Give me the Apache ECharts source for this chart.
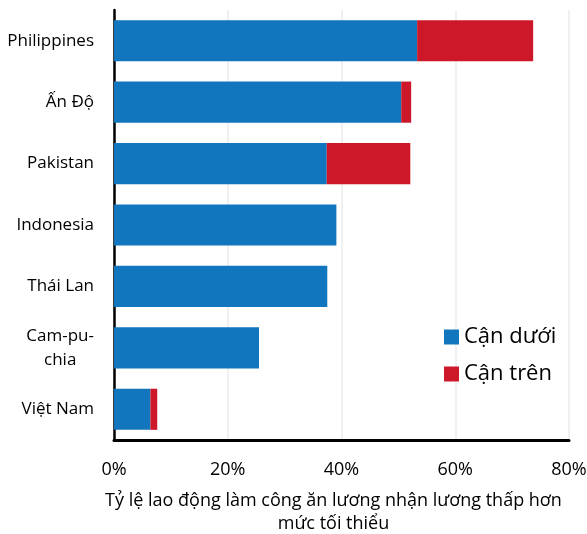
<!DOCTYPE html>
<html>
<head>
<meta charset="utf-8">
<script src="https://cdn.jsdelivr.net/npm/echarts@6/dist/echarts.min.js"></script>
<style>
  html, body { margin: 0; padding: 0; background: #fff; }
  #chart { width: 587px; height: 534px; }
</style>
</head>
<body>
<div id="chart"></div>
<script>
// Share of wage employees paid below the minimum wage (%)
const countries = ['Philippines', 'Ấn Độ', 'Pakistan', 'Indonesia', 'Thái Lan', 'Cam-pu-\nchia', 'Việt Nam'];
const lowerBound = [53.3, 50.5, 37.4, 39.1, 37.5, 25.5, 6.4];
// Extra share added by the upper bound on top of the lower bound
const upperExtra = [20.4, 1.75, 14.7, 0, 0, 0, 1.2];
const seriesNames = ['Cận dưới', 'Cận trên'];
const xTicks = { min: 0, max: 80, step: 20 };
const xAxisTitle = 'Tỷ lệ lao động làm công ăn lương nhận lương thấp hơn\nmức tối thiểu';

const font = '"Open Sans", Lato, "Noto Sans", sans-serif';
const chart = echarts.init(document.getElementById('chart'), null, { renderer: 'canvas' });

chart.setOption({
  animation: false,
  backgroundColor: '#ffffff',
  textStyle: { fontFamily: font, color: '#000' },
  grid: { left: 114, right: 18, top: 10, bottom: 94, containLabel: false, outerBoundsMode: 'none' },
  legend: {
    orient: 'vertical',
    left: 439,
    top: 321,
    itemWidth: 15,
    itemHeight: 15,
    itemGap: 15,
    icon: 'rect',
    textStyle: { fontFamily: font, fontSize: 22, color: '#000' },
    data: seriesNames
  },
  xAxis: {
    type: 'value',
    min: xTicks.min,
    max: xTicks.max,
    interval: xTicks.step,
    axisLine: { show: true, lineStyle: { color: '#000', width: 3 } },
    axisTick: { show: false },
    splitLine: { show: true, lineStyle: { color: '#ebebeb', width: 1.5 } },
    axisLabel: {
      formatter: '{value}%',
      fontSize: 18,
      color: '#000',
      margin: 21,
      fontFamily: font
    },
    name: xAxisTitle,
    nameLocation: 'middle',
    nameGap: 49,
    nameTextStyle: {
      fontSize: 18,
      lineHeight: 23,
      color: '#000',
      fontFamily: font,
      padding: [0, 16, 0, 0]
    }
  },
  yAxis: {
    type: 'category',
    inverse: true,
    data: countries,
    axisLine: { show: true, lineStyle: { color: '#000', width: 2.5 } },
    axisTick: { show: false },
    axisLabel: {
      fontSize: 17,
      color: '#000',
      margin: 20,
      fontFamily: font,
      lineHeight: 24,
      formatter: function (v) {
        if (v.indexOf('\n') >= 0) {
          return v.split('\n').map(function (s) { return '{c|' + s + '}'; }).join('\n');
        }
        return v;
      },
      rich: {
        c: { align: 'center', fontSize: 17, lineHeight: 24, color: '#000', fontFamily: font }
      }
    }
  },
  series: [
    {
      name: seriesNames[0],
      type: 'bar',
      stack: 'total',
      barCategoryGap: '33%',
      itemStyle: { color: '#1176bd' },
      data: lowerBound
    },
    {
      name: seriesNames[1],
      type: 'bar',
      stack: 'total',
      barCategoryGap: '33%',
      itemStyle: { color: '#cc1829' },
      data: upperExtra
    }
  ]
});
</script>
</body>
</html>
